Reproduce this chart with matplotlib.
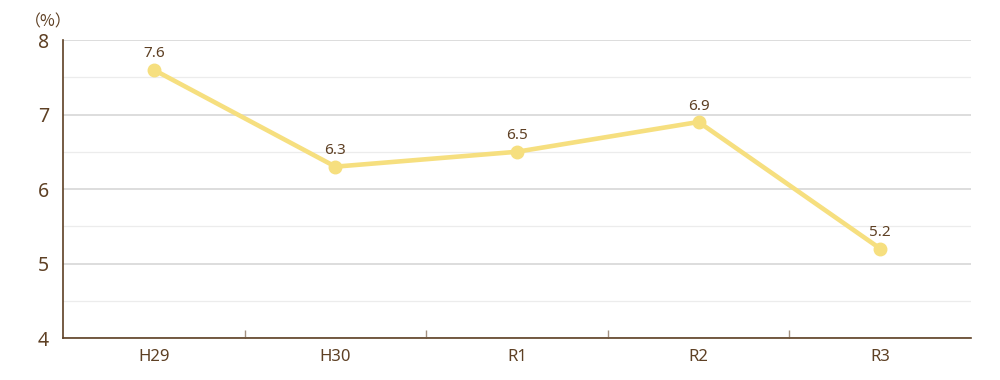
import matplotlib
matplotlib.use("Agg")
import matplotlib.pyplot as plt
import numpy as np

# data
years = ["H29", "H30", "R1", "R2", "R3"]
rate = [7.6, 6.3, 6.5, 6.9, 5.2]
y_ticks = [4, 5, 6, 7, 8]

plt.rcParams['font.family'] = ['Noto Sans', 'Noto Sans CJK JP', 'DejaVu Sans']

brown = '#5e4024'
line_col = '#f6df7f'

fig = plt.figure(figsize=(10, 3.8), dpi=100)
ax = fig.add_axes([0.063, 0.1105, 0.908, 0.7842])

x = np.arange(len(years))
ax.plot(x, rate, color=line_col, linewidth=3.3, marker='o', markersize=9,
        solid_capstyle='round', zorder=3)
for xi, v in zip(x, rate):
    ax.annotate(f"{v}", (xi, v), xytext=(0, 6), textcoords='offset points',
                ha='center', va='bottom', fontsize=11, color=brown)

ax.set_xlim(-0.5, len(years) - 0.5)
ax.set_ylim(4, 8)
ax.set_xticks(x)
ax.set_xticklabels(years)
ax.set_xticks(np.arange(len(years) - 1) + 0.5, minor=True)
ax.tick_params(axis='x', which='major', length=0, pad=8, labelsize=12, labelcolor=brown)
ax.tick_params(axis='x', which='minor', direction='in', length=6, width=1.0, color='#a39080')
ax.set_yticks(y_ticks)
ax.set_yticks(np.arange(4.5, 8, 1), minor=True)
ax.tick_params(axis='y', which='major', length=0, pad=10, labelsize=14, labelcolor=brown)
ax.tick_params(axis='y', which='minor', length=0)

ax.grid(axis='y', which='major', color='#dddddd', linewidth=1.4)
ax.grid(axis='y', which='minor', color='#ececec', linewidth=0.9)
ax.set_axisbelow(True)

for s in ['top', 'right']:
    ax.spines[s].set_visible(False)
for s in ['left', 'bottom']:
    ax.spines[s].set_color(brown)
    ax.spines[s].set_linewidth(1.2)

fig.text(0.048, 0.943, "（%）", ha='center', va='center', fontsize=11.5, color=brown,
         family=['Noto Sans CJK JP', 'DejaVu Sans'])

fig.savefig("out.png", dpi=100)
